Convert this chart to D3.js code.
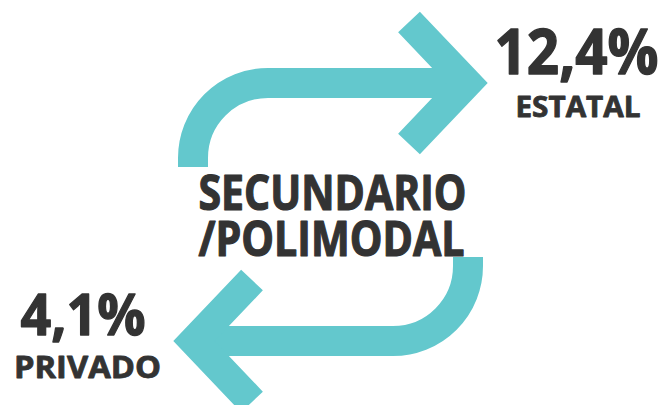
<!DOCTYPE html>
<html>
<head>
<meta charset="utf-8">
<script src="https://cdn.jsdelivr.net/npm/d3@7"></script>
<style>
  html, body { margin: 0; padding: 0; background: #ffffff; }
  svg { display: block; }
  text { font-family: "Open Sans", "Noto Sans", sans-serif; font-weight: 700; fill: #333333; stroke: #333333; stroke-linejoin: round; }
</style>
</head>
<body>
<div id="chart"></div>
<script>
// ---- data ----
const sectors = ["ESTATAL", "PRIVADO"];
const rates = [12.4, 4.1];
const levelLines = ["SECUNDARIO", "/POLIMODAL"];

const W = 667, H = 405;
const teal = "#63c8cd";

const svg = d3.select("#chart").append("svg")
  .attr("width", W).attr("height", H);

// arrow geometry (top arrow; bottom one is its 180° rotation)
const cx = 330.5, cy = 212;
function arrow(g) {
  const p = d3.path();
  p.moveTo(193, 167);
  p.lineTo(193, 158);
  p.arc(268, 158, 75, Math.PI, 1.5 * Math.PI);
  p.lineTo(462, 83);
  g.append("path").attr("d", p.toString())
    .attr("fill", "none").attr("stroke", teal)
    .attr("stroke-width", 30).attr("stroke-linecap", "butt");
  const h = d3.path();
  h.moveTo(409, 22);
  h.lineTo(467, 83);
  h.lineTo(409, 144);
  g.append("path").attr("d", h.toString())
    .attr("fill", "none").attr("stroke", teal)
    .attr("stroke-width", 30).attr("stroke-linecap", "butt")
    .attr("stroke-linejoin", "miter").attr("stroke-miterlimit", 10);
}
arrow(svg.append("g"));
arrow(svg.append("g").attr("transform", `rotate(180, ${cx}, ${cy})`));

const fmt = v => d3.format(".1f")(v).replace(".", ",") + "%";

// value labels
const valueSpec = [
  { x: 494.5, y: 73.5, size: 62, len: 164, sw: 1.4 },
  { x: 20.5, y: 334.5, size: 57, len: 125, sw: 1.3 }
];
const nameSpec = [
  { x: 515.5, y: 116.5, size: 28, len: 125, sw: 0.8 },
  { x: 14, y: 378, size: 29.5, len: 147, sw: 0.8 }
];
rates.forEach((v, i) => {
  svg.append("text")
    .attr("x", valueSpec[i].x).attr("y", valueSpec[i].y)
    .attr("font-size", valueSpec[i].size)
    .attr("stroke-width", valueSpec[i].sw)
    .attr("textLength", valueSpec[i].len)
    .attr("lengthAdjust", "spacingAndGlyphs")
    .text(fmt(v));
  svg.append("text")
    .attr("x", nameSpec[i].x).attr("y", nameSpec[i].y)
    .attr("font-size", nameSpec[i].size)
    .attr("stroke-width", nameSpec[i].sw)
    .attr("textLength", nameSpec[i].len)
    .attr("lengthAdjust", "spacingAndGlyphs")
    .text(sectors[i]);
});

// center label
const centerSpec = [
  { x: 198.5, y: 209.5, len: 268 },
  { x: 198.5, y: 256, len: 266 }
];
levelLines.forEach((t, i) => {
  svg.append("text")
    .attr("x", centerSpec[i].x).attr("y", centerSpec[i].y)
    .attr("font-size", 48)
    .attr("stroke-width", 1.2)
    .attr("textLength", centerSpec[i].len)
    .attr("lengthAdjust", "spacingAndGlyphs")
    .text(t);
});
</script>
</body>
</html>
